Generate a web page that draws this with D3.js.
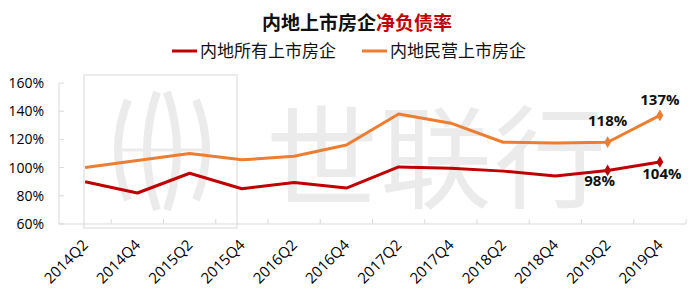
<!DOCTYPE html>
<html>
<head>
<meta charset="utf-8">
<script src="https://cdn.jsdelivr.net/npm/d3@7"></script>
<style>
  body { margin: 0; background: #fff; }
  svg { font-family: "Noto Sans CJK SC", "Open Sans", sans-serif; }
  .num { font-family: "Open Sans", "Noto Sans CJK SC", sans-serif; }
</style>
</head>
<body>
<svg width="700" height="300"></svg>
<script>
const quarters = ['2014Q2', '2014Q4', '2015Q2', '2015Q4', '2016Q2', '2016Q4',
  '2017Q2', '2017Q4', '2018Q2', '2018Q4', '2019Q2', '2019Q4'];
const allDevs = [90, 82, 96, 85, 89.5, 85.5, 100.5, 99.5, 97.5, 94, 98, 104];     // 内地所有上市房企
const privateDevs = [100, 105, 110, 105.5, 108, 116, 138, 131.5, 118, 117.5, 118, 137]; // 内地民营上市房企
const yTicks = [60, 80, 100, 120, 140, 160];

const series = [
  { name: '内地所有上市房企', values: allDevs, color: '#c00000' },
  { name: '内地民营上市房企', values: privateDevs, color: '#ed7d31' },
];

const svg = d3.select('svg');
const x = d3.scaleBand().domain(quarters).range([59, 686]);
const y = d3.scaleLinear().domain([60, 160]).range([224, 83]);
const cx = (q) => x(q) + x.bandwidth() / 2;

// watermark
const wm = svg.append('g').attr('fill', 'none').attr('stroke', '#ebebeb');
wm.append('rect').attr('x', 84).attr('y', 75).attr('width', 153).attr('height', 153)
  .attr('stroke-width', 2);
wm.append('path').attr('stroke-width', 8)
  .attr('d', 'M128,100 Q108,150 128,200 M196,100 Q216,150 196,200 M157,92 Q137,151 157,210 M167,92 Q187,151 167,210');
wm.append('line').attr('x1', 121).attr('x2', 203).attr('y1', 150).attr('y2', 150).attr('stroke-width', 3);
svg.append('text').attr('x', 266).attr('y', 200).attr('fill', '#ebebeb')
  .attr('font-size', 112).attr('letter-spacing', 2).text('世联行');

// axes
const axisColor = '#d9d9d9';
const yAxis = svg.append('g');
yAxis.append('line').attr('x1', 59).attr('x2', 59).attr('y1', y(160)).attr('y2', y(60))
  .attr('stroke', axisColor);
yAxis.selectAll('.yt').data(yTicks).enter().append('line')
  .attr('x1', 59).attr('x2', 64).attr('y1', (d) => y(d)).attr('y2', (d) => y(d))
  .attr('stroke', axisColor);
yAxis.selectAll('text').data(yTicks).enter().append('text').attr('class', 'num')
  .attr('x', 44).attr('y', (d) => y(d) + 5).attr('text-anchor', 'end')
  .attr('font-size', 14).attr('fill', '#000').text((d) => d + '%');

const xAxis = svg.append('g');
xAxis.append('line').attr('x1', 59).attr('x2', 686).attr('y1', y(60)).attr('y2', y(60))
  .attr('stroke', axisColor);
xAxis.selectAll('.xt').data(quarters).enter().append('line')
  .attr('x1', (d) => x(d) + x.bandwidth())
  .attr('x2', (d) => x(d) + x.bandwidth())
  .attr('y1', y(60)).attr('y2', y(60) - 5).attr('stroke', axisColor);
xAxis.selectAll('text').data(quarters).enter().append('text').attr('class', 'num')
  .attr('transform', (d) => `translate(${cx(d) + 4},${y(60) + 22}) rotate(-45)`)
  .attr('text-anchor', 'end').attr('font-size', 15).attr('fill', '#000').text((d) => d);

// lines
const line = d3.line().x((d, i) => cx(quarters[i])).y((d) => y(d));
series.forEach((s) => {
  svg.append('path').datum(s.values).attr('d', line).attr('fill', 'none')
    .attr('stroke', s.color).attr('stroke-width', 3).attr('stroke-linejoin', 'round');
  svg.selectAll(null).data(s.values.slice(-2)).enter().append('path')
    .attr('d', d3.symbol(d3.symbolDiamond, 40))
    .attr('transform', (d, i) => `translate(${cx(quarters[10 + i])},${y(d)})`)
    .attr('fill', s.color);
});

// data labels
const labels = [
  { q: '2019Q2', v: privateDevs[10], dx: 0, dy: -16 },
  { q: '2019Q4', v: privateDevs[11], dx: 0, dy: -10 },
  { q: '2019Q2', v: allDevs[10], dx: -8, dy: 16 },
  { q: '2019Q4', v: allDevs[11], dx: 2, dy: 17 },
];
svg.selectAll('.lbl').data(labels).enter().append('text').attr('class', 'num')
  .attr('x', (d) => cx(d.q) + d.dx).attr('y', (d) => y(d.v) + d.dy)
  .attr('text-anchor', 'middle').attr('font-size', 15).attr('font-weight', 'bold')
  .attr('fill', '#111').text((d) => Math.round(d.v) + '%');

// title
const title = svg.append('text').attr('x', 357).attr('y', 30).attr('text-anchor', 'middle')
  .attr('font-size', 19).attr('font-weight', 'bold');
title.append('tspan').attr('fill', '#111').text('内地上市房企');
title.append('tspan').attr('fill', '#c00000').text('净负债率');

// legend
const legendX = [172, 362];
series.forEach((s, i) => {
  svg.append('line').attr('x1', legendX[i]).attr('x2', legendX[i] + 25)
    .attr('y1', 51).attr('y2', 51).attr('stroke', s.color).attr('stroke-width', 3);
  svg.append('text').attr('x', legendX[i] + 28).attr('y', 57).attr('font-size', 17)
    .attr('fill', '#111').text(s.name);
});
</script>
</body>
</html>
